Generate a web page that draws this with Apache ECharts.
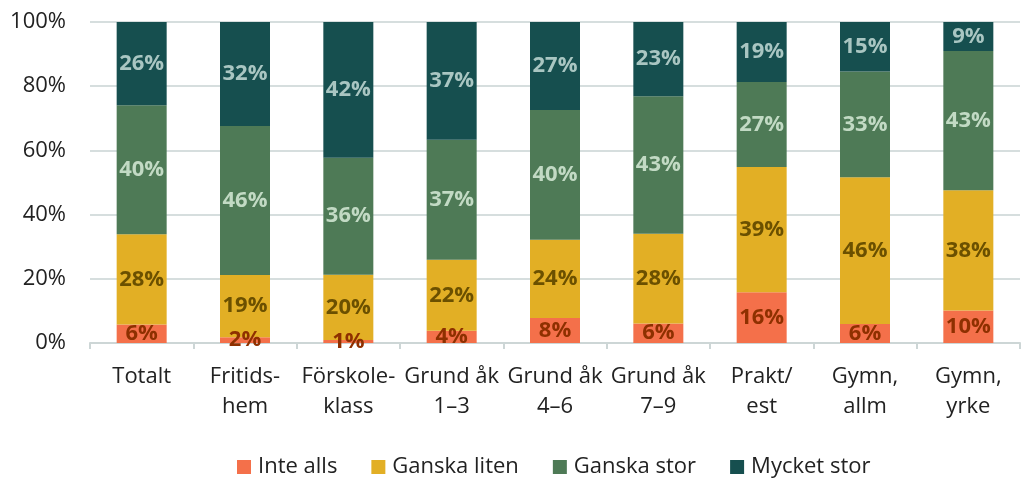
<!DOCTYPE html>
<html>
<head>
<meta charset="utf-8">
<script src="https://cdn.jsdelivr.net/npm/echarts@6/dist/echarts.min.js"></script>
<style>
  html, body { margin: 0; padding: 0; background: #fff; }
  #chart { width: 1031px; height: 479px; }
</style>
</head>
<body>
<div id="chart"></div>
<script>
// kategorier
const categories = ['Totalt', 'Fritids-\nhem', 'Förskole-\nklass', 'Grund åk\n1–3', 'Grund åk\n4–6', 'Grund åk\n7–9', 'Prakt/\nest', 'Gymn,\nallm', 'Gymn,\nyrke']
const seriesNames = ['Inte alls', 'Ganska liten', 'Ganska stor', 'Mycket stor']
// andelar i procent
const inteAlls = [5.8, 1.8, 0.9, 3.8, 7.8, 6.1, 15.8, 5.9, 10.1]
const ganskaLiten = [28.1, 19.4, 20.4, 22.1, 24.4, 27.9, 39.0, 45.7, 37.5]
const ganskaStor = [40.2, 46.4, 36.4, 37.4, 40.4, 42.9, 26.5, 33.0, 43.4]
const mycketStor = [25.9, 32.4, 42.3, 36.7, 27.4, 23.1, 18.7, 15.4, 9.0]
const yTicks = [0, 20, 40, 60, 80, 100]

const font = '"Open Sans", "Noto Sans", sans-serif'
const colors = ['#F4704A', '#E2AF25', '#4E7A56', '#164F4F']
const labelColors = ['#8E3000', '#6B5000', '#C2DAC4', '#A9C6C2']

const makeSeries = (name, data, i) => ({
  name: name,
  type: 'bar',
  stack: 'total',
  barWidth: 50,
  data: data,
  itemStyle: { color: colors[i] },
  label: {
    show: true,
    position: 'inside',
    formatter: p => Math.round(p.value) + '%',
    color: labelColors[i],
    fontFamily: font,
    fontWeight: 'bold',
    fontSize: 22
  }
})

const chart = echarts.init(document.getElementById('chart'))
chart.setOption({
  animation: false,
  grid: { left: 90, right: 11, top: 22, bottom: 136 },
  legend: {
    top: 451,
    left: 232,
    itemWidth: 14,
    itemHeight: 14,
    itemGap: 34,
    icon: 'rect',
    textStyle: { fontFamily: font, fontSize: 22, color: '#222', padding: [0, 0, 0, 2] },
    data: seriesNames
  },
  xAxis: {
    type: 'category',
    data: categories,
    axisLine: { lineStyle: { color: '#CDD6D6', width: 2 } },
    axisTick: { show: true, length: 6, lineStyle: { color: '#CDD6D6', width: 2 } },
    axisLabel: { interval: 0, fontFamily: font, fontSize: 22, color: '#222', lineHeight: 30, margin: 19 }
  },
  yAxis: {
    type: 'value',
    min: yTicks[0],
    max: yTicks[yTicks.length - 1],
    interval: 20,
    axisLabel: { formatter: '{value}%', fontFamily: font, fontSize: 22, color: '#222', margin: 24 },
    splitLine: { lineStyle: { color: '#D6DEDE', width: 2 } },
    axisLine: { show: false },
    axisTick: { show: false }
  },
  series: [
    makeSeries(seriesNames[0], inteAlls, 0),
    makeSeries(seriesNames[1], ganskaLiten, 1),
    makeSeries(seriesNames[2], ganskaStor, 2),
    makeSeries(seriesNames[3], mycketStor, 3)
  ]
})
</script>
</body>
</html>
